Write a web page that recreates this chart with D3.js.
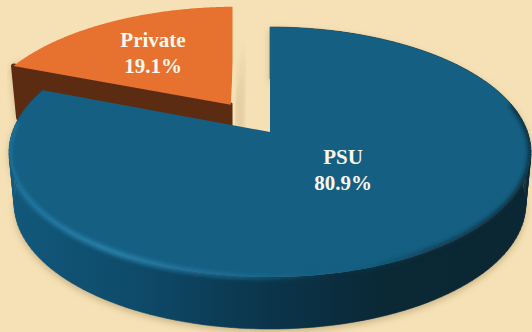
<!DOCTYPE html>
<html>
<head>
<meta charset="utf-8">
<script src="https://cdn.jsdelivr.net/npm/d3@7"></script>
<style>
  html, body { margin: 0; padding: 0; background: #f5e1b5; }
  svg { display: block; }
</style>
</head>
<body>
<div id="chart"></div>
<script>
var categories = ["PSU", "Private"];
var shares = [80.9, 19.1];
var topColors = ["#155f82", "#e7722f"];

var width = 532;
var height = 332;

// pie lies on a tilted plane, so points go through a small perspective map
var apexX = 270, apexY = 132;
var planeA = 257.6, planeB = 121.8, tilt = 0.16;
var depth = 52;
var explode = 0.28;

function project(u, v, drop) {
    var w = 1 - tilt * v;
    var shrink = 1 - 0.02 * (drop / depth);
    return [apexX + shrink * planeA * u / w, apexY + planeB * v / w + drop];
}

var pie = d3.pie().value(function (d) { return d; }).sort(null);
var slices = pie(shares);

function rimPoints(slice, ou, ov, drop) {
    var step = (slice.endAngle - slice.startAngle) / 160;
    return d3.range(161).map(function (i) {
        var a = slice.startAngle + i * step;
        return project(ou + Math.sin(a), ov - Math.cos(a), drop);
    });
}

function offsetOf(i) {
    if (i === 0) return [0, 0];
    var mid = (slices[i].startAngle + slices[i].endAngle) / 2;
    return [explode * Math.sin(mid), -explode * Math.cos(mid)];
}

var line = d3.line();

// side wall as one quad per rim step, keeps the silhouette smooth at the far left/right
function wallPath(top, bottom) {
    return d3.range(top.length - 1).map(function (i) {
        return line([top[i], top[i + 1], bottom[i + 1], bottom[i]]) + "Z";
    }).join("");
}

var svg = d3.select("#chart").append("svg")
    .attr("width", width)
    .attr("height", height);
var defs = svg.append("defs");

defs.append("filter").attr("id", "soft").attr("x", "-20%").attr("y", "-20%").attr("width", "140%").attr("height", "140%")
    .append("feGaussianBlur").attr("stdDeviation", 3.5);
defs.append("filter").attr("id", "glow").attr("x", "-20%").attr("y", "-20%").attr("width", "140%").attr("height", "140%")
    .append("feGaussianBlur").attr("stdDeviation", 2.2);

var wallGrad = defs.append("linearGradient").attr("id", "wallBlue")
    .attr("gradientUnits", "userSpaceOnUse").attr("x1", 10).attr("x2", 532).attr("y1", 0).attr("y2", 0);
[[0, "#12587b"], [0.25, "#0e4a69"], [0.5, "#0b344a"], [0.72, "#0a2835"], [1, "#0a2733"]].forEach(function (s) {
    wallGrad.append("stop").attr("offset", s[0]).attr("stop-color", s[1]);
});

var edgeGrad = defs.append("linearGradient").attr("id", "edgeBlue")
    .attr("gradientUnits", "userSpaceOnUse").attr("x1", 10).attr("x2", 532).attr("y1", 0).attr("y2", 0);
[[0, "#1f77a3", 0.9], [0.2, "#2c86b2", 1], [0.45, "#1f6f97", 0.7], [0.62, "#155f82", 0], [0.8, "#0b2c3c", 0.7], [1, "#0a2733", 1]].forEach(function (s) {
    edgeGrad.append("stop").attr("offset", s[0]).attr("stop-color", s[1]).attr("stop-opacity", s[2]);
});

// PSU pieces
var psuTop = rimPoints(slices[0], 0, 0, 0);
var psuBottom = rimPoints(slices[0], 0, 0, depth);
var psuApex = project(0, 0, 0);

// Private pieces
var off = offsetOf(1);
var privTop = rimPoints(slices[1], off[0], off[1], 0);
var privBottom = rimPoints(slices[1], off[0], off[1], depth);
var privApex = project(off[0], off[1], 0);
var privApexLow = project(off[0], off[1], depth);

defs.append("clipPath").attr("id", "privClip").append("rect")
    .attr("x", 0).attr("y", 0).attr("width", 232.5).attr("height", height);

// ground shadows
svg.append("path")
    .attr("d", wallPath(psuTop, psuBottom))
    .attr("transform", "translate(0,3)")
    .attr("fill", "#b9a376").attr("opacity", 0.75).attr("filter", "url(#soft)");
svg.append("path")
    .attr("d", line([privBottom[0], privBottom[12], privTop[12], privTop[0]]) + "Z")
    .attr("transform", "translate(-3,2)")
    .attr("fill", "#b9a376").attr("opacity", 0.6).attr("filter", "url(#soft)");
svg.append("path")
    .attr("d", line([privApex, project(off[0] * 0.9, off[1] - 0.62, 0), project(off[0] * 0.9, off[1] - 0.2, depth), privApexLow]) + "Z")
    .attr("transform", "translate(6,0)")
    .attr("fill", "#b9a376").attr("opacity", 0.5).attr("filter", "url(#soft)");
svg.append("path")
    .attr("d", line([psuApex, project(0, -0.62, 0), project(0, -0.2, depth), project(0, 0, depth)]) + "Z")
    .attr("transform", "translate(-5,0)")
    .attr("fill", "#b9a376").attr("opacity", 0.45).attr("filter", "url(#soft)");

// private slice, only the cut face and the left corner show
svg.append("path")
    .attr("d", line([privApex, privTop[0], privBottom[0], privApexLow]) + "Z")
    .attr("fill", "#5c2c12").attr("stroke", "#5c2c12").attr("stroke-width", 5).attr("stroke-linejoin", "round")
    .attr("clip-path", "url(#privClip)");
svg.append("path")
    .attr("d", line([privApex].concat(privTop)) + "Z")
    .attr("fill", topColors[1])
    .attr("clip-path", "url(#privClip)");

// PSU slice
svg.append("path")
    .attr("d", wallPath(psuTop, psuBottom))
    .attr("fill", "url(#wallBlue)")
    .attr("stroke", "url(#wallBlue)")
    .attr("stroke-width", 0.6);
svg.append("path")
    .attr("d", line([psuApex].concat(psuTop)) + "Z")
    .attr("fill", topColors[0]);

// rim highlight along the near edge
var clip = defs.append("clipPath").attr("id", "faceClip");
clip.append("path").attr("d", wallPath(psuTop, psuBottom));
clip.append("path").attr("d", line([psuApex].concat(psuTop)) + "Z");
svg.append("path")
    .attr("d", line(psuTop.slice(42, 152)))
    .attr("fill", "none")
    .attr("stroke", "url(#edgeBlue)")
    .attr("stroke-width", 5)
    .attr("filter", "url(#glow)")
    .attr("clip-path", "url(#faceClip)");

// labels
var labelSpots = [[343, 164], [153, 47]];
var labels = svg.append("g")
    .attr("font-family", "'Liberation Serif', serif")
    .attr("font-weight", "bold")
    .attr("font-size", 21)
    .attr("fill", "#fbf8ee")
    .attr("text-anchor", "middle");
categories.forEach(function (name, i) {
    labels.append("text").attr("x", labelSpots[i][0]).attr("y", labelSpots[i][1]).text(name);
    labels.append("text").attr("x", labelSpots[i][0]).attr("y", labelSpots[i][1] + 25.5).text(shares[i] + "%");
});
</script>
</body>
</html>
